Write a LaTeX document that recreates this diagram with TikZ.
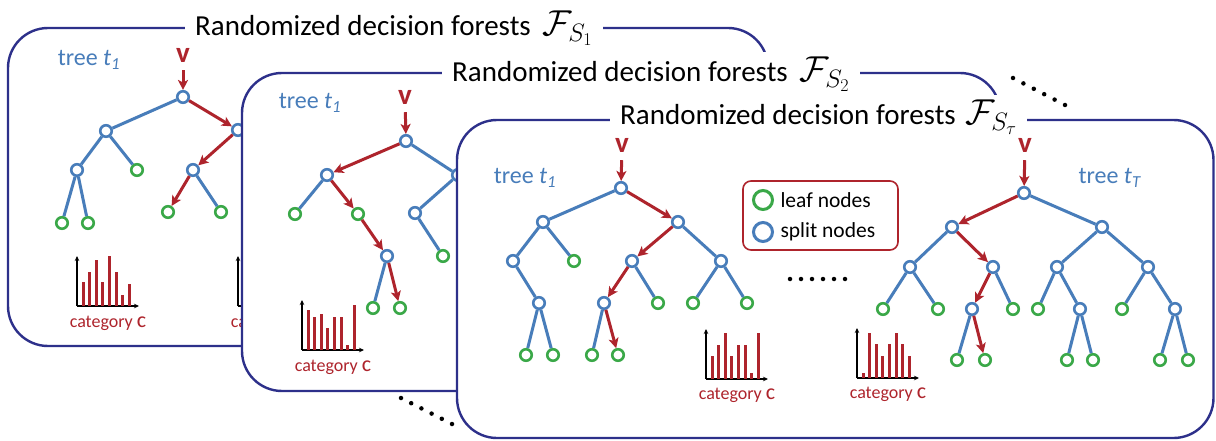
\documentclass[tikz,border=0pt]{standalone}
\usepackage{fix-cm}
\usepackage{fontspec}
\setmainfont{Carlito}
\usepackage{tikz}
\usetikzlibrary{arrows.meta}
\usetikzlibrary{positioning}
\definecolor{forestnavy}{RGB}{45,48,138}
\definecolor{splitblue}{RGB}{72,125,186}
\definecolor{leafgreen}{RGB}{58,168,72}
\definecolor{pathred}{RGB}{174,36,44}
\tikzset{split/.style={circle, draw=splitblue, fill=white, line width=2.6pt, inner sep=0pt, minimum size=11.5pt}}
\tikzset{leaf/.style={split, draw=leafgreen}}
\tikzset{branch/.style={draw=splitblue, line width=3pt}}
\tikzset{route/.style={draw=pathred, line width=3pt, -{Stealth[length=10pt, width=10pt, inset=2.5pt]}}}
\tikzset{forest/.style={draw=forestnavy, fill=white, line width=2.4pt, rounded corners=40pt}}
\tikzset{title/.style={fill=white, anchor=base west, inner xsep=10pt, inner ysep=5pt, font=\fontsize{29pt}{32pt}\selectfont}}
\tikzset{treelab/.style={text=splitblue, font=\fontsize{24pt}{28pt}\selectfont}}
\tikzset{input/.style={text=pathred, inner sep=1pt, font=\fontsize{29pt}{30pt}\selectfont\bfseries}}
\tikzset{category/.style={text=pathred, font=\fontsize{18pt}{22pt}\selectfont}}
\tikzset{bar/.style={draw=pathred, line width=3pt}}
\tikzset{axis/.style={draw=black, line width=1.2pt, -{Stealth[length=5pt, width=4.5pt]}}}
\tikzset{dot/.style={circle, fill=black, inner sep=0pt, minimum size=4.5pt}}
\tikzset{keybox/.style={draw=pathred, line width=1.6pt, rounded corners=8pt, minimum width=155pt, minimum height=69pt}}
\tikzset{keytext/.style={font=\fontsize{21.5pt}{24pt}\selectfont}}

\begin{document}
\begin{tikzpicture}[x=1pt,y=-1pt]
  \useasboundingbox (0,0) rectangle (1216,441);

  % forest S_1
  \draw[forest] (8,28) rectangle (768,346);
  \node[title] (atitle) at (185,36) {Randomized decision forests\hspace{5pt} {\fontsize{36pt}{40pt}\selectfont$\mathcal{F}_{S_1}$}\hspace{8pt}};
  \node[treelab] (alab) at (89,60) {tree \textit{t}\textsubscript{\textit{1}}};
  \foreach \x/\y/\lab/\kind in {
    183/97/a1/split,
    106/131/a2/split,
    238/130/a3/split,
    77/170/a4/split,
    137/170/a5/leaf,
    62/223/a6/leaf,
    88/223/a7/leaf,
    193/170/a8/split,
    168/212/a9/leaf,
    221/212/a10/leaf%
  } {
    \node[\kind] (\lab) at (\x,\y) {};
  }
  \foreach \u/\v in {a1/a2, a2/a4, a2/a5, a4/a6, a4/a7, a8/a10}{
    \draw[branch] (\u) -- (\v);
  }
  \foreach \u/\v in {a1/a3, a3/a8, a8/a9}{
    \draw[route] (\u) -- (\v);
  }
  \node[input] (ain) at (183,55) {v};
  \draw[route, shorten <=7pt] (ain) -- (a1);
  \foreach \ox/\oy/\hs/\lab in {
    77/306/{24,34,46,24,50,34,11,22}/acat,
    238/306/{30,20,40,26,44,18,36,28}/acattwo%
  } {
    \draw[axis] (\ox,\oy) -- ++(0,-50);
    \draw[axis] (\ox,\oy) -- ++(62,0);
    \foreach \h [count=\i] in \hs {
      \draw[bar] (\ox+\i*6.6-0.6,\oy) -- ++(0,-\h);
    }
    \node[category] (\lab) at (\ox+31,\oy+17) {category {\fontsize{22pt}{22pt}\selectfont c}};
  }

  % forest S_2
  \draw[forest] (242,73) rectangle (1000,391);
  \node[title] (btitle) at (442,82) {Randomized decision forests\hspace{5pt} {\fontsize{36pt}{40pt}\selectfont$\mathcal{F}_{S_2}$}\hspace{4pt}};
  \node[treelab] (blab) at (310,103) {tree \textit{t}\textsubscript{\textit{1}}};
  \foreach \x/\y/\lab/\kind in {
    406/141/b1/split,
    327/175/b2/split,
    458/175/b3/split,
    295/214/b4/leaf,
    358/214/b5/leaf,
    387/256/b6/split,
    373/308/b7/leaf,
    400/308/b8/leaf,
    415/213/b9/split,
    443/256/b10/leaf%
  } {
    \node[\kind] (\lab) at (\x,\y) {};
  }
  \foreach \u/\v in {b1/b3, b2/b4, b3/b9, b9/b10, b6/b7}{
    \draw[branch] (\u) -- (\v);
  }
  \foreach \u/\v in {b1/b2, b2/b5, b5/b6, b6/b8}{
    \draw[route] (\u) -- (\v);
  }
  \node[input] (bin) at (405,97) {v};
  \draw[route, shorten <=7pt] (bin) -- (b1);
  \foreach \ox/\oy/\hs/\lab in {
    302/350/{40,33,36,22,33,33,5,45}/bcat,
    463/350/{26,40,18,34,44,22,30,12}/bcattwo%
  } {
    \draw[axis] (\ox,\oy) -- ++(0,-50);
    \draw[axis] (\ox,\oy) -- ++(62,0);
    \foreach \h [count=\i] in \hs {
      \draw[bar] (\ox+\i*6.6-0.6,\oy) -- ++(0,-\h);
    }
    \node[category] (\lab) at (\ox+31,\oy+17) {category {\fontsize{22pt}{22pt}\selectfont c}};
  }

  % forest S_tau
  \draw[forest] (457,120) rectangle (1213.5,438);
  \node[title] (ctitle) at (610,125) {Randomized decision forests\hspace{3pt} {\fontsize{36pt}{40pt}\selectfont$\mathcal{F}_{S_\tau}$}\hspace{-7pt}};
  \node[treelab] (clab) at (525,178) {tree \textit{t}\textsubscript{\textit{1}}};
  \node[treelab] (dlab) at (1110,178) {tree \textit{t}\textsubscript{\textit{T}}};
  \foreach \x/\y/\lab/\kind in {
    621/188/c1/split,
    543/222/c2/split,
    678/222/c3/split,
    513/261/c4/split,
    574/261/c5/leaf,
    632/261/c6/split,
    721/261/c7/split,
    539/303/c8/split,
    604/303/c9/split,
    658/303/c10/leaf,
    693/303/c11/leaf,
    747/303/c12/leaf,
    526/355/c13/leaf,
    553/355/c14/leaf,
    592/355/c15/leaf,
    618/355/c16/leaf%
  } {
    \node[\kind] (\lab) at (\x,\y) {};
  }
  \foreach \u/\v in {c1/c2, c2/c4, c2/c5, c4/c8, c8/c13, c8/c14, c6/c10, c3/c7, c7/c11, c7/c12, c9/c15}{
    \draw[branch] (\u) -- (\v);
  }
  \foreach \u/\v in {c1/c3, c3/c6, c6/c9, c9/c16}{
    \draw[route] (\u) -- (\v);
  }
  \node[input] (cin) at (622,145) {v};
  \draw[route, shorten <=7pt] (cin) -- (c1);
  \foreach \x/\y/\lab/\kind in {
    1024/193/d1/split,
    952/227/d2/split,
    1102/227/d3/split,
    910/267/d4/split,
    993/267/d5/split,
    1057/267/d6/split,
    1148/267/d7/split,
    883/309/d8/leaf,
    938/309/d9/leaf,
    972/309/d10/split,
    1013/309/d11/leaf,
    1038/309/d12/leaf,
    1080/309/d13/split,
    1122/309/d14/leaf,
    1175/309/d15/split,
    957/360/d16/leaf,
    985/360/d17/leaf,
    1067/360/d18/leaf,
    1093/360/d19/leaf,
    1160/360/d20/leaf,
    1188/360/d21/leaf%
  } {
    \node[\kind] (\lab) at (\x,\y) {};
  }
  \foreach \u/\v in {d1/d3, d2/d4, d4/d8, d4/d9, d5/d11, d10/d16, d3/d6, d3/d7, d6/d12, d6/d13, d13/d18, d13/d19, d7/d14, d7/d15, d15/d20, d15/d21}{
    \draw[branch] (\u) -- (\v);
  }
  \foreach \u/\v in {d1/d2, d2/d5, d5/d10, d10/d17}{
    \draw[route] (\u) -- (\v);
  }
  \node[input] (din) at (1025,145) {v};
  \draw[route, shorten <=7pt] (din) -- (d1);
  \foreach \ox/\oy/\hs/\lab in {
    706/379/{23,34,46,23,34,34,6,46}/ccat,
    857/378/{5,45,34,22,34,45,34,22}/dcat%
  } {
    \draw[axis] (\ox,\oy) -- ++(0,-50);
    \draw[axis] (\ox,\oy) -- ++(62,0);
    \foreach \h [count=\i] in \hs {
      \draw[bar] (\ox+\i*6.6-0.6,\oy) -- ++(0,-\h);
    }
    \node[category] (\lab) at (\ox+31,\oy+16) {category {\fontsize{22pt}{22pt}\selectfont c}};
  }

  % legend
  \node[keybox] (key) at (820.5,215.5) {};
  \node[leaf, minimum size=19pt, line width=3pt] (keyleaf) at (763,200) {};
  \node[split, minimum size=19pt, line width=3pt] (keysplit) at (763,232) {};
  \node[keytext, right=3pt of keyleaf] (keyleaftext) {leaf nodes};
  \node[keytext, right=3pt of keysplit] (keysplittext) {split nodes};

  % dots
  \foreach \i in {0,...,5} {
    \node[dot] (topdot\i) at (1013+10.4*\i,78+5.4*\i) {};
    \node[dot] (lowdot\i) at (401+10.2*\i,398+5.2*\i) {};
    \node[dot] (middot\i) at (790+11*\i,279) {};
  }
\end{tikzpicture}
\end{document}
